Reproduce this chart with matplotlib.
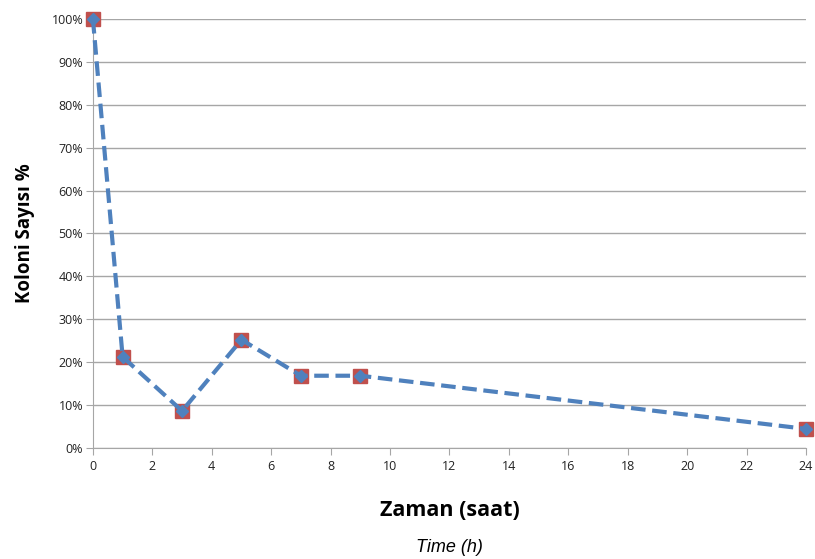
import matplotlib
matplotlib.use('Agg')
from matplotlib import pyplot as plt

plt.rcParams['font.family'] = ['Open Sans', 'DejaVu Sans']

time_h = [0, 1, 3, 5, 7, 9, 24]
colony_pct = [100, 21.2, 8.6, 25.2, 16.8, 16.8, 4.4]
xticks = list(range(0, 25, 2))
yticks = list(range(0, 101, 10))

fig = plt.figure(figsize=(8.15, 5.59), dpi=100)
ax = fig.add_axes([0.114, 0.199, 0.875, 0.767])

# red squares underneath, blue dashed line with diamonds on top
ax.plot(time_h, colony_pct, 's', color='#c0504d', markersize=10, zorder=3)
ax.plot(time_h, colony_pct, '--D', color='#4f81bd', markersize=6, linewidth=3,
        dashes=(3.5, 1.6), zorder=4)

ax.set_xlim(0, 24)
ax.set_ylim(0, 100)
ax.set_xticks(xticks)
ax.set_yticks(yticks)
ax.set_yticklabels([f'{v}%' for v in yticks])
ax.yaxis.grid(True, color='#a6a6a6', linewidth=1)
ax.set_axisbelow(True)
for s in ['top', 'right']:
    ax.spines[s].set_visible(False)
for s in ['left', 'bottom']:
    ax.spines[s].set_color('#a6a6a6')
ax.tick_params(colors='#a6a6a6', labelcolor='#222222', labelsize=9, length=5)
ax.tick_params(axis='y', pad=2)
for ln in ax.lines:
    ln.set_clip_on(False)

ax.set_ylabel('Koloni Sayısı %', fontsize=13.5, fontweight='bold', labelpad=12)
ax.set_xlabel('Zaman (saat)', fontsize=15.5, fontweight='bold', labelpad=20)
fig.text(0.552, 0.012, 'Time (h)', fontsize=13, fontstyle='italic', ha='center',
         family='Liberation Sans')

plt.savefig('out.png', dpi=100)
